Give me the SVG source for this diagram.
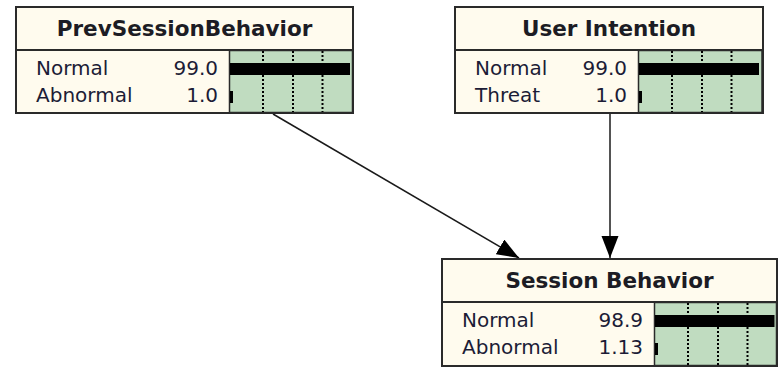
<svg xmlns="http://www.w3.org/2000/svg" width="778" height="369" viewBox="0 0 778 369">
  <style>
    .box { fill: #fffbee; stroke: #2a2a2a; stroke-width: 2; }
    .rule { stroke: #2a2a2a; stroke-width: 2; }
    .belief { fill: #c0dcc0; stroke: #2a2a2a; stroke-width: 1.5; }
    .grid { stroke: #000; stroke-width: 2; stroke-dasharray: 2 2; }
    .bar { fill: #000; }
    .title { font-family: "DejaVu Sans", "Liberation Sans", sans-serif; font-weight: bold; font-size: 21.5px; fill: #1c1c24; text-anchor: middle; }
    .state { font-family: "DejaVu Sans", "Liberation Sans", sans-serif; font-size: 20px; fill: #1c1c36; }
    .num { font-family: "DejaVu Sans", "Liberation Sans", sans-serif; font-size: 20px; fill: #1c1c36; text-anchor: end; }
    .link { stroke: #1a1a1a; stroke-width: 1.5; fill: none; marker-end: url(#head); }
  </style>
  <defs>
    <marker id="head" markerUnits="userSpaceOnUse" markerWidth="23" markerHeight="18" refX="22" refY="8.5" orient="auto">
      <path d="M0,0 L22,8.5 L0,17 z" fill="#000"/>
    </marker>
  </defs>
  <rect width="778" height="369" fill="#fff"/>

  <!-- connectors -->
  <g id="connectors">
    <line class="link" x1="273" y1="114" x2="519" y2="258"/>
    <line class="link" x1="610" y1="114" x2="610" y2="258"/>
  </g>

  <!-- PrevSessionBehavior -->
  <g id="prev-session-behavior">
    <rect class="box" x="16" y="7" width="337" height="106"/>
    <line class="rule" x1="16" y1="50" x2="353" y2="50"/>
    <text class="title" x="184.5" y="36">PrevSessionBehavior</text>
    <rect class="belief" x="229.5" y="50.5" width="123" height="62"/>
    <line class="grid" x1="263" y1="51" x2="263" y2="112"/>
    <line class="grid" x1="293" y1="51" x2="293" y2="112"/>
    <line class="grid" x1="322.5" y1="51" x2="322.5" y2="112"/>
    <rect class="bar" x="230" y="63" width="120" height="12"/>
    <rect class="bar" x="230" y="91" width="3" height="12"/>
    <text class="state" x="36" y="75">Normal</text>
    <text class="state" x="36" y="102">Abnormal</text>
    <text class="num" x="218" y="75">99.0</text>
    <text class="num" x="218" y="102">1.0</text>
  </g>

  <!-- User Intention -->
  <g id="user-intention">
    <rect class="box" x="455" y="7" width="308" height="106"/>
    <line class="rule" x1="455" y1="50" x2="763" y2="50"/>
    <text class="title" x="609" y="36">User Intention</text>
    <rect class="belief" x="638.5" y="50.5" width="123.5" height="62"/>
    <line class="grid" x1="672" y1="51" x2="672" y2="112"/>
    <line class="grid" x1="702" y1="51" x2="702" y2="112"/>
    <line class="grid" x1="731.5" y1="51" x2="731.5" y2="112"/>
    <rect class="bar" x="639" y="63" width="120" height="12"/>
    <rect class="bar" x="639" y="91" width="3" height="12"/>
    <text class="state" x="475" y="75">Normal</text>
    <text class="state" x="475" y="102">Threat</text>
    <text class="num" x="627" y="75">99.0</text>
    <text class="num" x="627" y="102">1.0</text>
  </g>

  <!-- Session Behavior -->
  <g id="session-behavior">
    <rect class="box" x="442" y="259" width="335" height="107"/>
    <line class="rule" x1="442" y1="302" x2="777" y2="302"/>
    <text class="title" x="609.5" y="288">Session Behavior</text>
    <rect class="belief" x="654.5" y="302.5" width="122" height="63"/>
    <line class="grid" x1="688" y1="303" x2="688" y2="365"/>
    <line class="grid" x1="718" y1="303" x2="718" y2="365"/>
    <line class="grid" x1="747.5" y1="303" x2="747.5" y2="365"/>
    <rect class="bar" x="655" y="315" width="119.5" height="12"/>
    <rect class="bar" x="655" y="343" width="3" height="12"/>
    <text class="state" x="462" y="327">Normal</text>
    <text class="state" x="462" y="354">Abnormal</text>
    <text class="num" x="643" y="327">98.9</text>
    <text class="num" x="643" y="354">1.13</text>
  </g>
</svg>
